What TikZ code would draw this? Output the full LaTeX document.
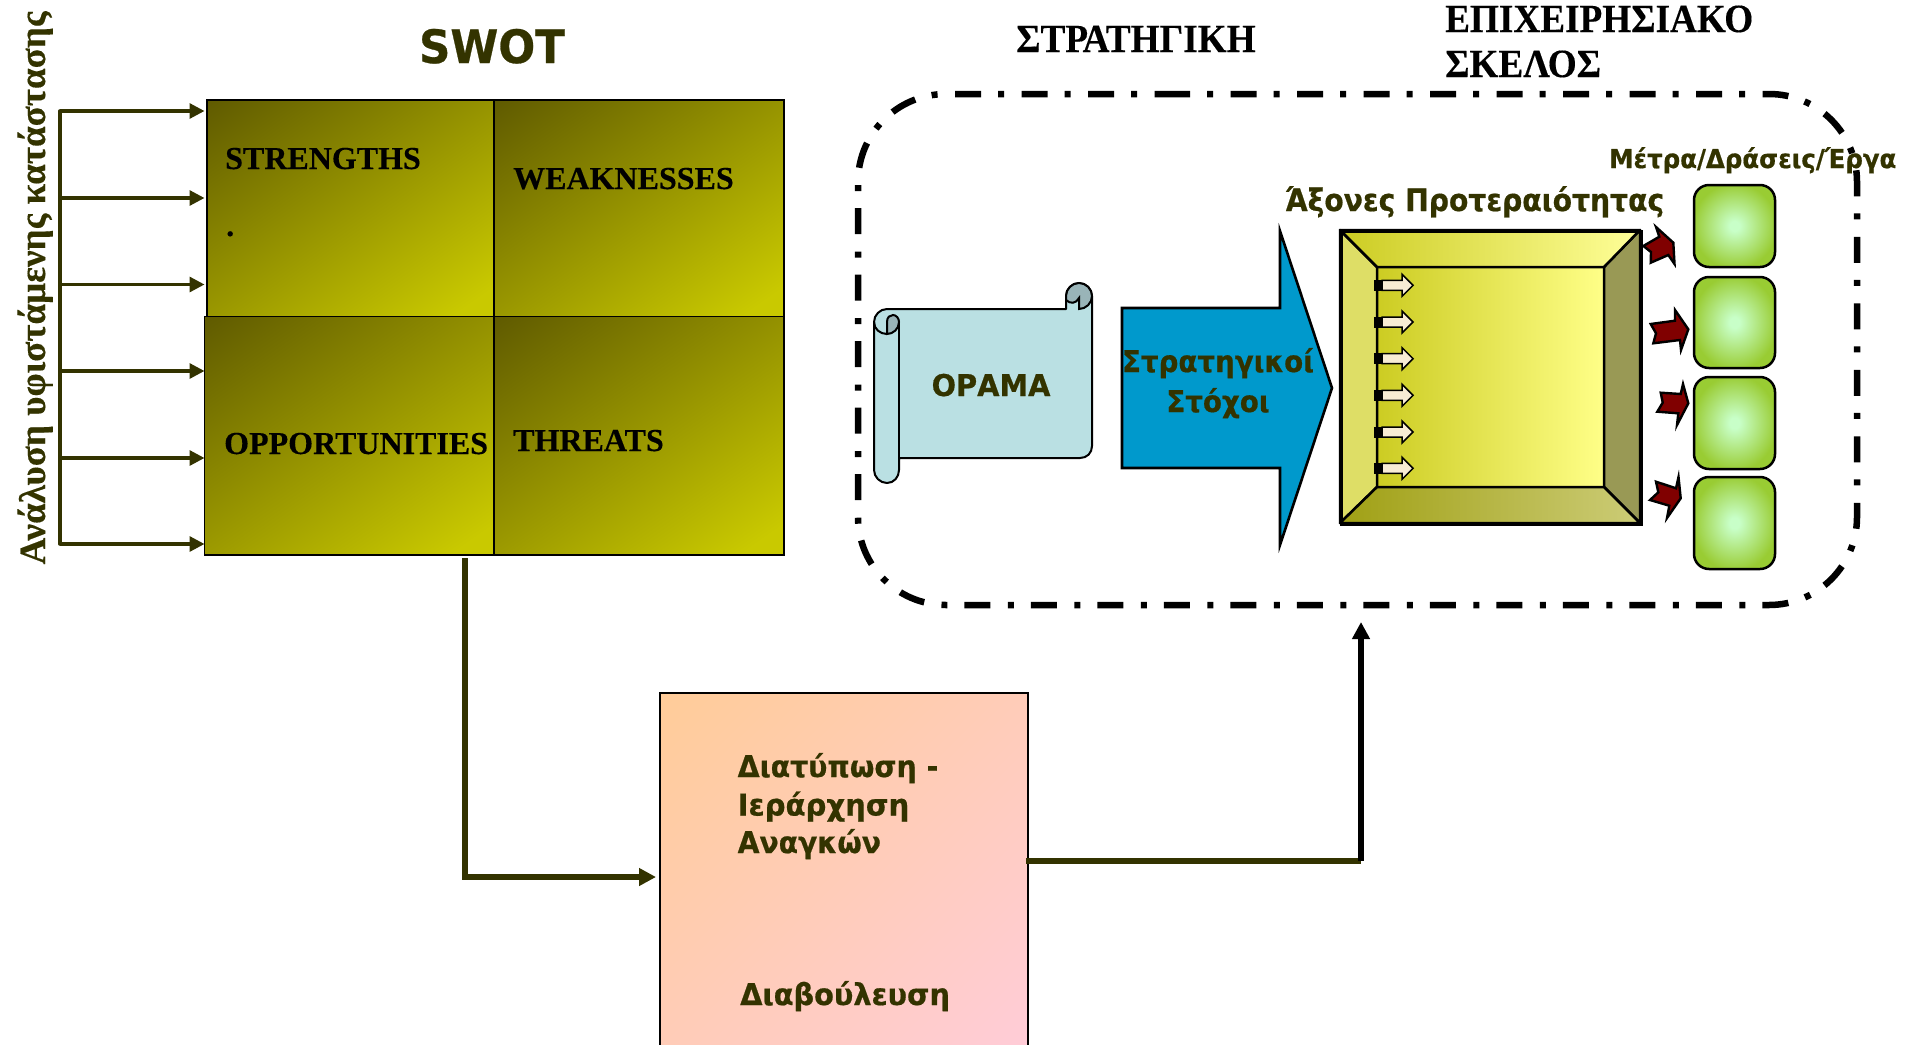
\documentclass[tikz,border=0pt]{standalone}
\usepackage{fontspec}
\setmainfont[BoldFeatures={FakeBold=0.3}]{Liberation Serif}
\newfontfamily\dvfont[BoldFeatures={FakeBold=0.6}]{DejaVu Sans}
\usetikzlibrary{arrows.meta,calc}
\definecolor{ol}{HTML}{333300}
\definecolor{olA}{HTML}{5F5A00}
\definecolor{olB}{HTML}{C9C900}
\definecolor{peA}{HTML}{FFCC99}
\definecolor{peB}{HTML}{FFCCDD}
\definecolor{scr}{HTML}{BAE0E3}
\definecolor{scrd}{HTML}{99B4B8}
\definecolor{blu}{HTML}{0099CC}
\definecolor{grA}{HTML}{C8FFC8}
\definecolor{grB}{HTML}{99CC33}
\definecolor{arrowred}{HTML}{800000}
\definecolor{bvA}{HTML}{CCCC22}
\definecolor{bvB}{HTML}{FFFF88}
\definecolor{bvC}{HTML}{FFFF99}
\definecolor{bvD}{HTML}{DEDE66}
\definecolor{bvE}{HTML}{999955}
\definecolor{bvF}{HTML}{A0A014}
\definecolor{bvG}{HTML}{CCCC77}
\definecolor{cream}{HTML}{F8ECD4}
\pgfdeclarehorizontalshading{olshade}{100bp}{color(0bp)=(olA); color(15bp)=(olA); color(80bp)=(olB); color(100bp)=(olB)}
\pgfdeclarehorizontalshading{peshade}{100bp}{color(0bp)=(peA); color(14.65bp)=(peA); color(85.35bp)=(peB); color(100bp)=(peB)}
\pgfdeclareradialshading{grshade}{\pgfpoint{0bp}{0bp}}{color(0bp)=(grA); color(3bp)=(grA); color(26bp)=(grB); color(50bp)=(grB)}
\tikzset{
  swotbox/.style={draw=black,line width=1.8pt,shade,shading=olshade,shading angle=-55,anchor=north west,inner sep=0pt,outer sep=0pt},
  swotlabel/.style={anchor=base west,inner sep=0pt,text=black,font=\fontsize{32}{36}\selectfont\bfseries},
  titlelabel/.style={anchor=base west,inner sep=0pt,text=black,xscale=0.93,font=\fontsize{40}{44}\selectfont\bfseries},
  dvlabel/.style={anchor=base west,inner sep=0pt,text=ol,font=\dvfont\fontsize{30}{34}\selectfont\bfseries},
  feed/.style={draw=ol,line width=3.2pt,-{Triangle[length=15pt,width=15pt]}},
  flow/.style={draw=ol,line width=5.5pt,-{Triangle[length=17pt,width=17pt]}},
  panel/.style={draw=black,line width=2.5pt,line join=round},
  tile/.style={draw=black,line width=2.5pt,rounded corners=15pt,shade,shading=grshade,anchor=north west,inner sep=0pt,outer sep=0pt,minimum width=81pt},
  redarrow/.style={fill=arrowred,draw=black,line width=2.4pt,line join=miter,miter limit=8},
}
\begin{document}
\begin{tikzpicture}[x=1pt,y=-1pt]
\useasboundingbox (0,0) rectangle (1905,1044);
% SWOT matrix
\node[swotbox,minimum width=287pt,minimum height=216.5pt] (S) at (207,100) {};
\node[swotbox,minimum width=290pt,minimum height=216.5pt] (W) at (494,100) {};
\node[swotbox,minimum width=290pt,minimum height=238.5pt] (O) at (204.5,316.5) {};
\node[swotbox,minimum width=290pt,minimum height=238.5pt] (T) at (494,316.5) {};
\node[swotlabel] (ls) at (225,169) {STRENGTHS};
\node[swotlabel] (ldot) at (226,236) {.};
\node[swotlabel] (lw) at (513,189) {WEAKNESSES};
\node[swotlabel] (lo) at (224,454) {OPPORTUNITIES};
\node[swotlabel] (lt) at (513,451) {THREATS};
\node[anchor=base,inner sep=0pt,text=ol,xscale=0.945,font=\dvfont\fontsize{46}{50}\selectfont\bfseries] (title) at (492,63) {SWOT};
\node[titlelabel] (t1) at (1016,52) {ΣΤΡΑΤΗΓΙΚΗ};
\node[titlelabel] (t2) at (1445,32) {ΕΠΙΧΕΙΡΗΣΙΑΚΟ};
\node[titlelabel] (t3) at (1445,77) {ΣΚΕΛΟΣ};
\node[rotate=90,anchor=base,inner sep=0pt,text=ol,font=\fontsize{37.1}{41}\selectfont\bfseries] (side) at (45,288) {Ανάλυση υφιστάμενης κατάστασης};
% feed arrows
\coordinate (f1) at (60,111);
\coordinate (f2) at (60,198);
\coordinate (f3) at (60,284.5);
\coordinate (f4) at (60,371);
\coordinate (f5) at (60,458);
\coordinate (f6) at (60,544);
\draw[draw=ol,line width=3.6pt,line cap=round] (f1) -- (f6);
\foreach \c in {f1,f2,f3,f4,f5,f6} \draw[feed] (\c) -- (\c -| O.west);
% needs box
\begin{scope}
\clip (0,0) rectangle (1905,1044);
\node[draw=black,line width=2pt,shade,shading=peshade,shading angle=-45,anchor=north west,inner sep=0pt,outer sep=0pt,minimum width=368pt,minimum height=420pt] (N) at (660,693) {};
\end{scope}
\node[dvlabel,xscale=0.945] (n1) at (737.5,777) {Διατύπωση -};
\node[dvlabel,xscale=0.97] (n2) at (737.5,815.5) {Ιεράρχηση};
\node[dvlabel,xscale=0.94] (n3) at (737.5,853) {Αναγκών};
\node[dvlabel,xscale=0.96] (n4) at (740,1005) {Διαβούλευση};
\coordinate (swotout) at (465,558);
\coordinate (needin) at (656,877);
\draw[flow] (swotout) |- (needin);
\coordinate (needout) at (1026,861);
\coordinate (stratin) at (1361,622);
\draw[draw=ol,line width=5.5pt] (needout) -- (1361,861) coordinate (bend);
\draw[draw=black,line width=5.5pt,-{Triangle[length=17pt,width=17pt]}] (bend) -- (stratin);
% scroll
\path[fill=scr,draw=black,line width=2pt,line join=round] (899,458) -- (1080,458) .. controls (1087,458) and (1092,453) .. (1092,446) -- (1092,296) .. controls (1092,289) and (1086,283) .. (1079,283) .. controls (1072,283) and (1066,289) .. (1066,296) -- (1066,309) -- (887,309) .. controls (880,309) and (874,315) .. (874,322) -- (874,470) .. controls (874,477) and (880,483) .. (887,483) .. controls (894,483) and (899,477) .. (899,470) -- cycle;
\path[fill=scrd,draw=black,line width=2pt] (1066,300) .. controls (1070,304) and (1076,304) .. (1079,298) -- (1079,309) .. controls (1086,309) and (1092,303) .. (1092,296) .. controls (1092,289) and (1086,283) .. (1079,283) .. controls (1072,283) and (1066,289) .. (1066,296) -- cycle;
\path[fill=scrd,draw=black,line width=2pt] (887,334) -- (887,322) .. controls (887,317) and (890,315) .. (893,315) .. controls (896,315) and (899,318) .. (899,322) .. controls (899,329) and (893,334) .. (887,334) -- cycle;
\draw[black,line width=2pt] (874,322) .. controls (874,329) and (880,334) .. (887,334);
\draw[black,line width=2pt] (899,322) -- (899,470);
\node[dvlabel,anchor=base,xscale=0.96] (vision) at (991,396) {ΟΡΑΜΑ};
% blue arrow
\path[fill=blu,draw=black,line width=2.6pt,line join=miter,miter limit=10] (1122,308) -- (1280,308) -- (1280,231) -- (1332,388) -- (1280,545) -- (1280,468) -- (1122,468) -- cycle;
\node[dvlabel,anchor=base,xscale=0.923] (g1) at (1218,372) {Στρατηγικοί};
\node[dvlabel,anchor=base,xscale=0.923] (g2) at (1218,412) {Στόχοι};
% bevel
\shade[left color=bvA,right color=bvB] (1377,267) rectangle (1604,487);
\draw[black,line width=2.5pt] (1377,267) rectangle (1604,487);
\path[panel,fill=bvD] (1340,230) -- (1377,267) -- (1377,487) -- (1340,523) -- cycle;
\path[panel,fill=bvE] (1640,230) -- (1604,267) -- (1604,487) -- (1640,523) -- cycle;
\path[panel,left color=bvA,right color=bvC] (1340,230) -- (1640,230) -- (1604,267) -- (1377,267) -- cycle;
\path[panel,left color=bvF,right color=bvG] (1340,523) -- (1640,523) -- (1604,487) -- (1377,487) -- cycle;
\node[draw=black,line width=2.5pt,anchor=north west,inner sep=0pt,minimum width=300pt,minimum height=293pt] (bev) at (1340,230) {};
\foreach \y in {285.3,322,358.7,395.3,432,468.3}{
  \fill[black] (1374.4,\y-5.5) rectangle (1382,\y+5.5);
  \path[fill=cream,draw=black,line width=1.5pt,line join=miter] (1382,\y-5) -- (1402,\y-5) -- (1402,\y-11) -- (1413,\y) -- (1402,\y+11) -- (1402,\y+5) -- (1382,\y+5) -- cycle;
}
\node[dvlabel,xscale=0.91,font=\dvfont\fontsize{31}{34}\selectfont\bfseries] (axes) at (1285,211) {Άξονες Προτεραιότητας};
\node[dvlabel,xscale=0.94,font=\dvfont\fontsize{26}{30}\selectfont\bfseries] (meas) at (1609,168) {Μέτρα/Δράσεις/Έργα};
% tiles
\node[tile,minimum height=82pt] (g1t) at (1694,185) {};
\node[tile,minimum height=91pt] (g2t) at (1694,277) {};
\node[tile,minimum height=92pt] (g3t) at (1694,377) {};
\node[tile,minimum height=92pt] (g4t) at (1694,477) {};
% red arrows
\path[redarrow] (1643.3,246) -- (1659.3,236.7) -- (1656,227) -- (1673.3,242.7) -- (1674.5,264) -- (1668.3,255) -- (1650.7,262.7) -- (1651,252) -- cycle;
\path[redarrow] (1650.7,324) -- (1675,320.7) -- (1675,310) -- (1688.3,329.3) -- (1681,350) -- (1680,340) -- (1653.3,343.3) -- (1656,333.3) -- cycle;
\path[redarrow] (1660.7,392.7) -- (1680.7,394) -- (1683,384) -- (1688.3,403.3) -- (1677,425) -- (1678.3,413.3) -- (1657.3,411.7) -- (1662.7,402.7) -- cycle;
\path[redarrow] (1656,481.7) -- (1676,488.3) -- (1678.5,477) -- (1680.7,498.3) -- (1667,518) -- (1669.3,505.7) -- (1650,500) -- (1658.3,492.3) -- cycle;
% dash-dot frame
\draw[black,line width=6.5pt,dash pattern=on 26pt off 17pt on 6pt off 17.5pt,rounded corners=88pt] (1076,94) -- (1857,94) -- (1857,605) -- (858,605) -- (858,94) -- cycle;
\end{tikzpicture}
\end{document}
